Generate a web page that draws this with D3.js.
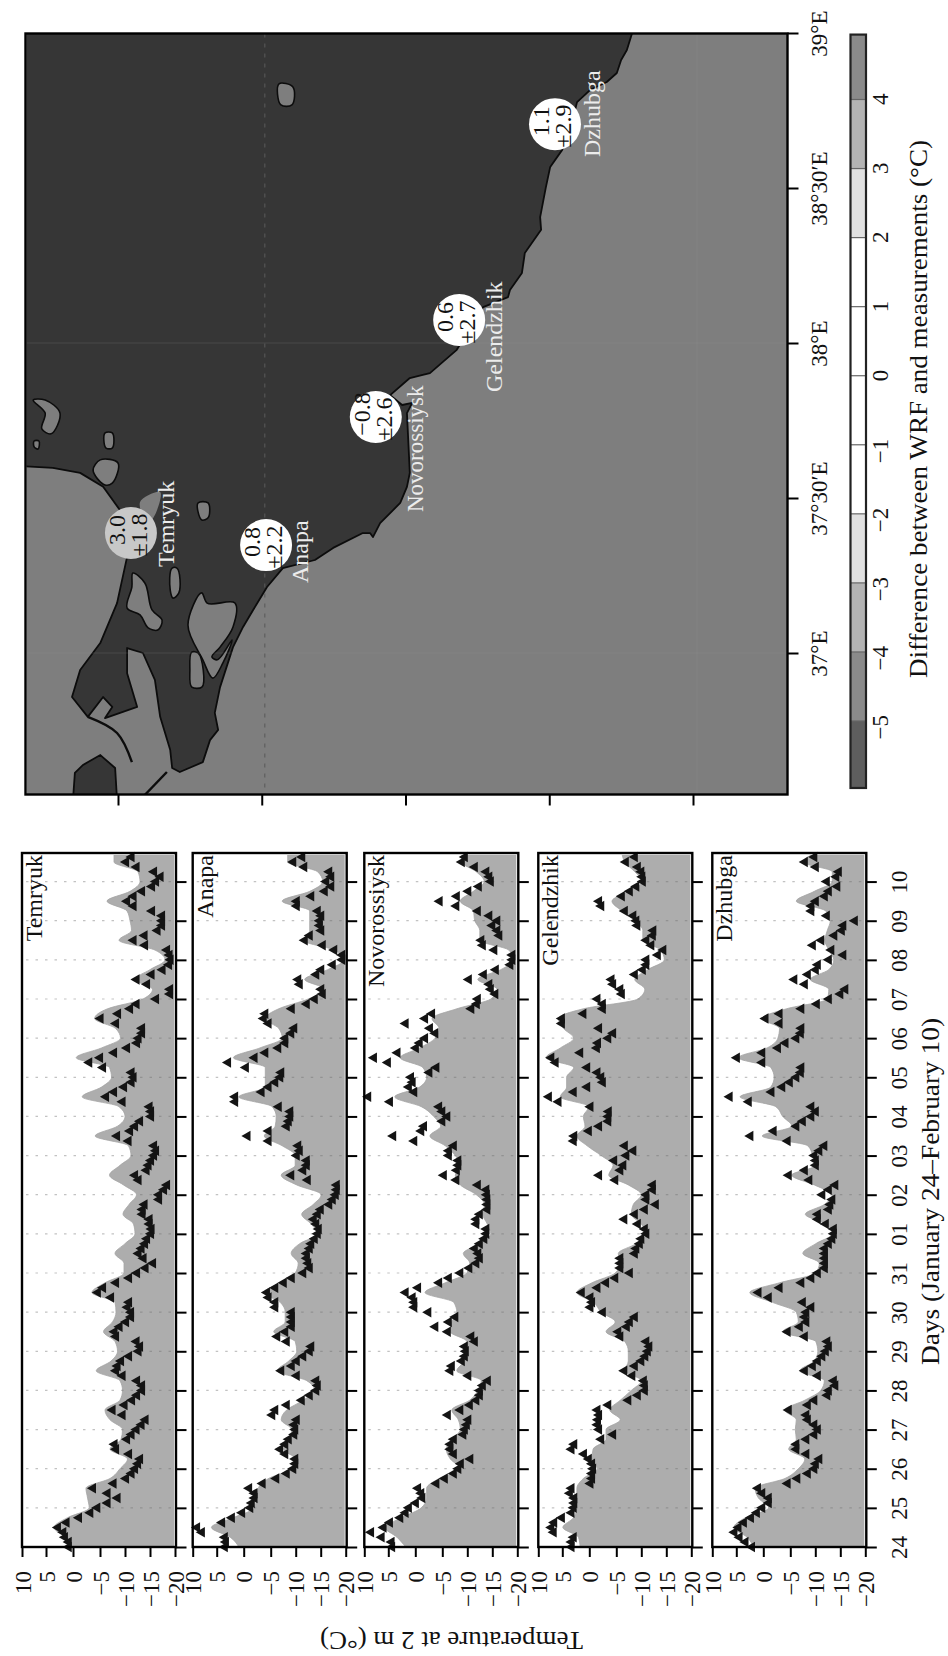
<!DOCTYPE html>
<html><head><meta charset="utf-8">
<script src="https://cdn.jsdelivr.net/npm/d3@7"></script>
<style>html,body{margin:0;padding:0;background:#fff}svg{display:block}text{font-family:"Liberation Serif",serif;fill:#111}</style>
</head><body><svg id="c" width="948" height="1656"></svg>
<script>
const stations=["Temryuk","Anapa","Novorossiysk","Gelendzhik","Dzhubga"];
const dayLabels=["24","25","26","27","28","29","30","31","01","02","03","04","05","06","07","08","09","10"];
const tempTicks=[10,5,0,-5,-10,-15,-20];
// WRF model, 6-hourly from Jan 24 00:00 (deg C)
const modelTemryuk=[0,1.5,3.5,1,-3,-2.7,-2.4,-7,-9,-10.5,-7,-9.2,-9.5,-7,-6,-9,-9.5,-9,-4.3,-7.2,-8.5,-8,-5.7,-7.5,-8.2,-8,-3.5,-6,-9.8,-9.8,-8,-10,-12,-11.7,-9.6,-10.8,-12.3,-9.7,-6.9,-9,-11.2,-10.7,-4.1,-8.5,-10,-8.8,-1.7,-5.3,-7.3,-6.9,-.6,-5.3,-9.1,-8.1,-4,-6.5,-13.6,-15.5,-12,-15,-18,-16,-8.8,-11.3,-11,-10.4,-6.4,-11,-13,-12.6,-7.8,-7.8];
const modelAnapa=[.9,2.5,6.1,1.9,-2,-2.4,-2.7,-4.6,-9.2,-9.9,-7.6,-8.6,-9.2,-7.1,-8.2,-11.5,-13.8,-12.2,-6.3,-8.6,-10.2,-9.9,-5.6,-7.9,-7.9,-6.9,-3.7,-6.9,-9.9,-10.5,-9.1,-10.8,-14.4,-13.1,-11.2,-13.5,-15.1,-10.2,-7.1,-9.9,-9.9,-7.3,-3.8,-5.9,-6.1,-5.3,.9,-4,-4,-4,1.9,-3,-7.3,-6.6,-4,-6.6,-12.5,-15.8,-11.8,-16.4,-19.7,-17.7,-11.5,-12.8,-12.8,-12.8,-7.3,-12.8,-15.4,-14.4,-8.4,-8.4];
const modelNovorossiysk=[1.8,3.4,5.7,2.5,-1.1,-2.1,-2.1,-4.4,-8.6,-6.6,-5.8,-6.9,-8.6,-8.2,-6.9,-10.5,-12.1,-12.8,-7.9,-9.2,-9.2,-9.9,-6.6,-6.9,-7.9,-7.3,-1.8,-5.6,-9.9,-10.5,-9.2,-12.5,-14.7,-14,-13.1,-13.4,-11.8,-8.6,-7.6,-8.6,-7.6,-5.6,-2.7,-4.7,-3.4,-1.1,3.8,-.8,-2.1,-1.4,2.8,-.8,-3.7,-4.4,-3.1,-7.9,-14.7,-16,-12.1,-16.7,-19.3,-18.3,-12.5,-12.5,-11.5,-11.2,-8.6,-11.2,-13.4,-11.8,-8.9,-8.9];
const modelGelendzhik=[1.7,2,4.9,2.9,2.3,2.3,2.3,1.1,-1.5,-.5,-.7,-3.1,-3.1,-5.8,-3.8,-5.8,-8,-10,-6.7,-7.4,-7.4,-6.7,-3.1,-4.8,-2.2,-.8,2.3,-.5,-4.8,-5.8,-5.4,-9,-11,-10,-8,-8.4,-10,-7.4,-3.6,-4.4,-2.2,.4,2.3,.8,1.1,.1,5.4,4.2,4.2,2.9,8.4,5.4,2.9,4.8,5.8,1.1,-9.3,-10.7,-8.7,-11.3,-14.6,-13.9,-10.3,-10.3,-8.7,-6.1,-4.2,-7.4,-10.3,-8.7,-6.7,-6.1];
const modelDzhubga=[1.8,3,5.5,3.3,-1,.9,1.5,-4,-6.6,-7.9,-4.7,-6.2,-6,-6.2,-4,-7.9,-11.1,-11.8,-6.9,-9.8,-10.5,-10.1,-3.6,-6.6,-6.2,-1.7,2.5,-3,-10.1,-10.8,-7.5,-10.1,-13.4,-12.1,-8,-11.8,-13.4,-9.8,-5.3,-10.1,-9.5,-8.5,.2,-5.3,-3.6,-2.3,4.3,-1.4,-2,-1.4,4.6,-.7,-2.7,-3,.2,-4.3,-12.4,-12.7,-9,-12.7,-13.7,-12.7,-11.9,-12.4,-13,-12.1,-6.2,-9.8,-13.4,-13.4,-7.5,-10.5];
// Measurements, 3-hourly from Jan 24 00:00 (deg C)
const obsTemryuk=[.8,.8,1.5,1.8,2.8,1.2,-1.1,-3.2,-4.5,-6.5,-8.5,-6.5,-3.7,-7.7,-10.2,-11.3,-12,-12.6,-13,-10.8,-8.2,-7.9,-10.4,-11.3,-12.3,-13.3,-14.1,-9.5,-7.5,-9.9,-11.4,-12.4,-13.4,-13.4,-12.4,-9.5,-8.2,-8.5,-9.2,-10.8,-12.7,-13,-12.3,-8.2,-7.9,-8.9,-10.2,-11.2,-11.2,-10.5,-10.8,-7.2,-4.6,-5.6,-8.2,-10.8,-12.4,-14.1,-15.6,-13.7,-12.7,-13.3,-14,-14.4,-15.2,-15.3,-14.9,-14.9,-13.5,-13.5,-13.9,-16.8,-16.8,-17.8,-18.4,-12.7,-12,-14.3,-14.7,-15.2,-15.8,-16.2,-15.8,-10.7,-8.4,-11,-12,-13,-15.2,-15.2,-14.9,-9.5,-6.2,-7.8,-9.8,-11.3,-11.7,-11.3,-5.6,-3,-5,-7.8,-10.4,-12.4,-12.7,-13.4,-13.4,-8.2,-5.1,-8.6,-11,-12.3,-16.2,-19,-19,-14.4,-12.3,-15.3,-17.5,-18.8,-19.1,-18.9,-18.4,-14,-11.7,-13.9,-16.5,-17.4,-17.4,-17.4,-15.4,-11.7,-10.4,-11.7,-13.4,-15.4,-16.2,-17.1,-15.8,-12.3,-10.2,-11.3];
const obsAnapa=[3.5,3.3,3.5,8.1,9.1,4,2.2,.3,-1.2,-1.5,-2,-2,-1,-3.5,-6.1,-8.2,-9.5,-9.9,-9.9,-7.9,-6.9,-7.9,-8.6,-9.7,-9.9,-9.7,-10.2,-5.3,-5.9,-8.2,-11.2,-12.8,-14.1,-14.4,-14.1,-10.2,-7.1,-9.2,-10.2,-11.5,-12.8,-13.1,-8.2,-6.3,-7.9,-9.2,-9.2,-9.2,-9.2,-5.9,-5.9,-4.6,-4.3,-5.9,-7.6,-9.2,-11.5,-12.8,-12.5,-12.2,-12.2,-12.8,-13.1,-13.8,-14.4,-14.6,-14.1,-13.6,-14.4,-15,-16.7,-17.4,-18,-18.2,-18.2,-12.4,-9.1,-11.5,-12.2,-12.2,-10.2,-10.8,-10.5,-4.6,-.7,-4.6,-8.2,-8.6,-8.9,-8.9,-6.6,1.6,1.6,-3.3,-4.6,-5.9,-6.9,-7.1,-.4,2.9,-2,-4,-6.5,-7.9,-7.9,-9.1,-9.7,-4.6,-3.7,-4,-9.2,-12.2,-13.8,-15.4,-15.1,-10.8,-10.5,-14.1,-15.1,-17.4,-19.3,-19.3,-17.7,-15.4,-11.8,-12.8,-15.1,-14.8,-14.8,-15.1,-14.4,-10.2,-10.2,-13.1,-15.8,-17.1,-16.1,-17.1,-16.7,-11.7,-9.5,-11.3];
const obsNovorossiysk=[4.3,4.4,6.4,8.6,6,4.7,2.8,1.8,1.2,-.1,-1.3,-1.1,-.5,-3.9,-5.5,-7.3,-8.2,-8.7,-10.6,-7.3,-6.6,-6.6,-7.3,-9.2,-9.5,-9.9,-10.2,-6.1,-8.6,-10.5,-11.8,-12.5,-12.5,-13.1,-14.1,-10.2,-6.6,-6.9,-8.9,-9.5,-9.7,-9.5,-11.5,-10.8,-6.1,-3.7,-6.3,-7.6,-2.4,.2,.2,.5,1.8,-.5,-4.4,-6.3,-8.6,-10.4,-11.8,-12.5,-12.2,-11.5,-12.5,-13.4,-13.8,-13.8,-11.8,-11.8,-12.5,-14,-14,-14,-13.9,-13.8,-12.1,-7.8,-5.3,-7.9,-8.2,-8.2,-6.3,-6.3,-7.3,.2,4.1,-1.1,-1.6,-5,-6,-5,-4.4,4.7,9.2,.2,1.2,.5,.8,-2.6,-3.9,5.1,8,3.3,-.1,-.8,-1.8,-3.7,-2.7,1.8,-1.8,-3.1,-10.8,-11.9,-12.1,-15.6,-14.7,-14.4,-10.3,-13.3,-15.7,-18.6,-19,-19,-15.4,-13.1,-12.8,-16.4,-16,-15,-16,-14.4,-12.1,-7.8,-4.5,-7.9,-10.2,-12.3,-14.7,-14.4,-13.8,-11.5,-8.9,-9.5];
const obsGelendzhik=[3.3,3.3,2.9,6.8,7.3,6.7,5.1,3.3,2.9,2.8,2.8,3.6,3.3,-.2,-.5,-.5,-.7,-.5,.1,1,3.3,2.8,-2.2,-4.4,-1.8,-1.5,-1.6,-1.8,-1.5,-3.5,-7.4,-9.3,-10.7,-10.7,-10.5,-8.2,-6.6,-8.7,-10,-10.8,-11.3,-11.6,-11,-5.8,-5.4,-7.1,-7.7,-8.7,-2.5,-.2,-.5,-.2,1.4,-1.5,-3.1,-4.8,-7.7,-5.8,-5.8,-5.8,-8.7,-9,-9.7,-10,-11,-10.7,-9.3,-6.6,-8.7,-10.7,-12.9,-11,-11,-12.3,-12.3,-4.8,-1.8,-5.8,-6.4,-4.6,-7,-8.4,-6.7,2.9,2.8,.1,-1.8,-3.5,-3.5,-3.6,-.2,5.8,7.8,2.9,.4,-2.5,-2.2,-1.5,.4,6.4,7.3,1.7,-1.4,-1.6,-3.5,-4.4,-1.8,5.1,5.1,1.1,-2.5,-2.5,-1.5,-6.1,-5.8,-4.4,-4.1,-8.7,-10.3,-11,-11,-13.3,-14.4,-12,-11,-12.3,-12.4,-9.2,-9,-8.4,-6.7,-2.2,-1.8,-6.1,-7.7,-9,-10.3,-10.2,-10,-9.3,-6.9,-8.7];
const obsDzhubga=[2.1,3.3,4.4,5.4,4.6,3.6,2.3,1.2,.2,-1,-1,.2,1,-4.5,-6.4,-8.5,-9.8,-10.1,-10.8,-8.2,-6.2,-6.2,-8.2,-9.8,-10.5,-9.8,-8.5,-8.2,-4.7,-8.5,-9.8,-12.4,-12.7,-14,-13.7,-10.5,-7.9,-9.5,-10.5,-11.4,-12.1,-12.7,-12.4,-7.9,-4.5,-6.9,-8.2,-7.9,-8.2,-9.2,-7.5,-1,.9,-3,-7.2,-9.2,-10.5,-11.9,-11.9,-11.9,-11.9,-11.9,-12.7,-13.4,-13.7,-13.7,-12.1,-10.5,-10.5,-12.7,-13,-13.4,-11.4,-12.7,-14,-8.8,-4.7,-7.9,-10.1,-10.1,-9.8,-10.8,-11.8,-4.5,2.4,-1.9,-6.2,-7.5,-9.2,-10.1,-9.2,2.7,6.4,-1.5,-3.5,-4.9,-6.2,-7.1,-7.2,.2,4.9,.2,-2.7,-4.1,-6.2,-7.1,-7.2,-3,-.4,-3,-7.2,-10.3,-12.7,-15,-16,-7.9,-5.8,-8.5,-10.1,-10.5,-12.7,-15.6,-13.2,-9.5,-11.2,-13.8,-15.3,-15.6,-17.9,-12.3,-9.2,-9.2,-10.1,-11.9,-12.7,-14.4,-12.3,-14.2,-14.7,-10.1,-7.9,-9.8];
const modelByStation=[modelTemryuk,modelAnapa,modelNovorossiysk,modelGelendzhik,modelDzhubga];
const obsByStation=[obsTemryuk,obsAnapa,obsNovorossiysk,obsGelendzhik,obsDzhubga];
// Map data
const lonTicks=[37,37.5,38,38.5,39];
const lonLabels=["37°E","37°30′E","38°E","38°30′E","39°E"];
const latTicks=[45.3,45,44.7,44.4,44.1];
const biasStations=["Temryuk","Anapa","Novorossiysk","Gelendzhik","Dzhubga"];
const biasMean=[3.0,0.8,-0.8,0.6,1.1];
const biasStd=[1.8,2.2,2.6,2.7,2.9];
const stationLat=[45.273,44.991,44.762,44.588,44.388];
const stationLon=[37.387,37.348,37.761,38.074,38.706];
const colorBreaks=[-5,-4,-3,-2,2,3,4];
const colorShades=["#5e5e5e","#8a8a8a","#b3b3b3","#e0e0e0","#ffffff","#e0e0e0","#b3b3b3","#8a8a8a"];
const barTicks=[-5,-4,-3,-2,-1,0,1,2,3,4];
const mainland=[[44.227,39.016],[44.227,39.0],[44.238,38.945],[44.25,38.913],[44.259,38.871],[44.28,38.842],[44.315,38.816],[44.342,38.777],[44.346,38.752],[44.373,38.623],[44.398,38.568],[44.407,38.503],[44.419,38.406],[44.417,38.365],[44.451,38.29],[44.457,38.226],[44.482,38.171],[44.486,38.148],[44.538,38.116],[44.593,37.978],[44.622,37.939],[44.649,37.903],[44.664,37.897],[44.691,37.887],[44.732,37.832],[44.707,37.8],[44.686,37.807],[44.697,37.774],[44.691,37.581],[44.697,37.536],[44.711,37.484],[44.753,37.419],[44.768,37.374],[44.774,37.387],[44.789,37.387],[44.851,37.339],[44.889,37.3],[44.956,37.274],[44.989,37.213],[45.018,37.139],[45.039,37.084],[45.06,37.019],[45.087,36.89],[45.098,36.807],[45.091,36.752],[45.108,36.719],[45.123,36.648],[45.171,36.616],[45.187,36.629],[45.191,36.687],[45.212,36.794],[45.223,36.913],[45.248,37],[45.281,37.016],[45.281,36.935],[45.26,36.826],[45.327,36.79],[45.312,36.826],[45.331,36.858],[45.363,36.794],[45.396,36.858],[45.379,36.945],[45.337,37.032],[45.302,37.161],[45.281,37.31],[45.296,37.461],[45.331,37.536],[45.379,37.581],[45.436,37.597],[45.504,37.603],[45.504,39.016]];
const crimea=[[45.39,36.613],[45.373,36.639],[45.337,36.671],[45.306,36.629],[45.302,36.526],[45.394,36.526]];
const lagoons=[
 [[45.154,37.09],[45.125,37.194],[45.114,37.161],[45.056,37.161],[45.06,37.084],[45.087,37.019],[45.104,36.987],[45.093,36.978],[45.062,37.042],[45.081,36.968],[45.102,36.919],[45.123,36.978]],
 [[45.146,37.003],[45.133,37],[45.125,36.89],[45.146,36.89],[45.15,36.945]],
 [[45.187,37.274],[45.177,37.274],[45.173,37.194],[45.185,37.177],[45.191,37.203]],
 [[45.269,37.258],[45.244,37.226],[45.229,37.139],[45.208,37.106],[45.217,37.074],[45.237,37.081],[45.254,37.123],[45.281,37.145],[45.271,37.213]],
 [[45.133,37.484],[45.112,37.484],[45.112,37.436],[45.125,37.429]],
 [[45.352,37.59],[45.337,37.623],[45.3,37.613],[45.312,37.548],[45.327,37.542]],
 [[45.477,37.816],[45.452,37.816],[45.421,37.774],[45.44,37.707],[45.459,37.723],[45.452,37.774]],
 [[45.475,37.684],[45.465,37.684],[45.467,37.658],[45.475,37.665]],
 [[45.327,37.71],[45.312,37.71],[45.312,37.661],[45.325,37.661]],
 [[44.964,38.836],[44.935,38.826],[44.937,38.768],[44.96,38.768]]
];
const temryukBay=[[45.254,37.487],[45.212,37.519],[45.223,37.445],[45.237,37.419]];
const spits=[[[45.254,36.526],[45.198,36.616]],[[45.363,36.794],[45.302,36.742],[45.271,36.648]]];

const svg=d3.select("#c");
const FF='"Liberation Serif",serif';
function rotText(g,x,y,s,size,anchor,fill,len){
  const t=g.append("text").attr("transform",`translate(${x},${y}) rotate(-90)`).attr("font-size",size).attr("text-anchor",anchor).text(s);
  if(fill)t.style("fill",fill);
  if(len)t.attr("textLength",len).attr("lengthAdjust","spacingAndGlyphs");
  return t;
}
// ---------- time-series panels ----------
const panelLeft=[22,192.7,364.3,538.3,712.3];
const pTop=853,pBot=1547,pW=153;
const y=d3.scaleLinear().domain([0,17.73]).range([pBot,pTop]);
const defs=svg.append("defs");
stations.forEach((name,i)=>{
  const L=panelLeft[i];
  const x=d3.scaleLinear().domain(tempTicks).range([0,24,51,78,103,128,153].map(d=>L+d));
  const g=svg.append("g");
  defs.append("clipPath").attr("id","p"+i).append("rect").attr("x",L+1).attr("y",pTop+2).attr("width",pW-2).attr("height",pBot-pTop-2);
  const area=d3.area().y((d,k)=>y(k/4)).x0(d=>x(d)).x1(x(-20)).curve(d3.curveMonotoneY);
  g.append("path").attr("clip-path",`url(#p${i})`).attr("d",area(modelByStation[i])).attr("fill","#adadad").attr("stroke","#a4a4a4").attr("stroke-width",.8);
  g.append("g").selectAll("line").data(d3.range(dayLabels.length)).join("line")
    .attr("x1",L+4).attr("x2",L+pW-3).attr("y1",d=>y(d)).attr("y2",d=>y(d))
    .attr("stroke","#6e6e6e").attr("stroke-opacity",.42).attr("stroke-width",1.2).attr("stroke-dasharray","2.5 7");
  const tri=d3.symbol().type(d3.symbolTriangle).size(48);
  g.append("g").selectAll("path").data(obsByStation[i]).join("path")
    .attr("d",tri).attr("fill","#141414")
    .attr("transform",(d,k)=>`translate(${x(d)},${y(k/8)}) rotate(-90)`);
  // bottom axis (temperature)
  const ax=d3.axisBottom(x).tickValues(tempTicks).tickSize(10).tickFormat(d3.format("d"));
  const axG=g.append("g").attr("transform",`translate(0,${pBot})`).call(ax);
  axG.select(".domain").remove();
  axG.selectAll("line").attr("stroke","#000").attr("stroke-width",2);
  axG.selectAll("text").attr("y",null).attr("dy",null).attr("text-anchor","end").attr("font-size",23)
     .attr("font-family",FF).attr("transform","translate(8,24) rotate(-90)");
  // right axis (days)
  const dayAx=d3.axisRight(y).tickValues(d3.range(dayLabels.length)).tickSize(10.5)
     .tickFormat(d=>i===4?dayLabels[d]:"");
  const dG=g.append("g").attr("transform",`translate(${L+pW+1},0)`).call(dayAx);
  dG.select(".domain").remove();
  dG.selectAll("line").attr("stroke","#000").attr("stroke-width",2);
  dG.selectAll("text").attr("x",null).attr("dy",null).attr("text-anchor","middle").attr("font-size",23)
     .attr("font-family",FF).attr("transform","translate(41,0) rotate(-90)");
  g.append("rect").attr("x",L).attr("y",pTop).attr("width",pW+1).attr("height",pBot-pTop)
    .attr("fill","none").attr("stroke","#000").attr("stroke-width",2.4);
  rotText(g,L+20,pTop+2,name,24,"end");
});
rotText(svg,939,1191.5,"Days (January 24–February 10)",26,"middle",null,347);
svg.append("text").attr("transform","translate(451.5,1632) rotate(180)").attr("font-size",26)
   .attr("text-anchor","middle").attr("textLength",263).attr("lengthAdjust","spacingAndGlyphs").text("Temperature at 2 m (°C)");
// ---------- map ----------
const mx=d3.scaleLinear().domain([45.3,44.1]).range([118,693]);
const my=d3.scaleLinear().domain([37,39]).range([653,33]);
const mL=25.5,mR=787.5,mT=33.5,mB=794.5;
const m=svg.append("g");
defs.append("clipPath").attr("id","mc").append("rect").attr("x",mL+1).attr("y",mT).attr("width",mR-mL-1).attr("height",mB-mT);
const mp=m.append("g").attr("clip-path","url(#mc)");
mp.append("rect").attr("x",mL).attr("y",mT).attr("width",mR-mL).attr("height",mB-mT).attr("fill","#7e7e7e");
const geoLine=d3.line().x(d=>mx(d[0])).y(d=>my(d[1])).curve(d3.curveCatmullRom.alpha(.6));
const closedLine=d3.line().x(d=>mx(d[0])).y(d=>my(d[1])).curve(d3.curveCatmullRomClosed.alpha(.6));
const polyLine=d3.line().x(d=>mx(d[0])).y(d=>my(d[1])).curve(d3.curveLinearClosed);
mp.append("path").attr("d",polyLine(mainland)).attr("fill","#363636").attr("stroke","#0c0c0c").attr("stroke-width",1.8).attr("stroke-linejoin","round");
mp.append("path").attr("d",polyLine(crimea)).attr("fill","#363636").attr("stroke","#0c0c0c").attr("stroke-width",1.8);
lagoons.forEach(a=>mp.append("path").attr("d",closedLine(a)).attr("fill","#7e7e7e").attr("stroke","#0c0c0c").attr("stroke-width",1.6));
mp.append("path").attr("d",closedLine(temryukBay)).attr("fill","#7e7e7e");
spits.forEach(a=>mp.append("path").attr("d",geoLine(a)).attr("fill","none").attr("stroke","#0c0c0c").attr("stroke-width",2.4));
// faint graticule
[37,38].forEach(v=>mp.append("line").attr("x1",mL).attr("x2",mR).attr("y1",my(v)).attr("y2",my(v)).attr("stroke","#a0a0a0").attr("stroke-opacity",.12).attr("stroke-width",1.5));
mp.append("line").attr("x1",mx(44.1)+4).attr("x2",mx(44.1)+4).attr("y1",mT).attr("y2",mB).attr("stroke","#8c8c8c").attr("stroke-opacity",.3).attr("stroke-width",1.5);
mp.append("line").attr("x1",mx(45)+3).attr("x2",mx(45)+3).attr("y1",mT).attr("y2",mB).attr("stroke","#5a5a5a").attr("stroke-opacity",.75).attr("stroke-width",1.4).attr("stroke-dasharray","4 6");
// coloured circles
const bandColor=d3.scaleThreshold().domain(colorBreaks).range(colorShades);
biasStations.forEach((s,i)=>{
  const cx=mx(stationLat[i]),cy=my(stationLon[i]);
  m.append("circle").attr("cx",cx).attr("cy",cy).attr("r",26).attr("fill",i===0?"#c8c8c8":bandColor(biasMean[i]));
  rotText(m,cx-6,cy-3,d3.format(".1f")(biasMean[i]),24,"middle");
  rotText(m,cx+16,cy+2,"±"+d3.format(".1f")(biasStd[i]),24,"middle");
});
const cityLabel=[[174,567],[308,583],[423,512],[502,392],[600,157]];
biasStations.forEach((s,i)=>rotText(m,cityLabel[i][0],cityLabel[i][1],s,i===2?23:24,"start","#ececec"));
// map axes
const rAx=d3.axisRight(my).tickValues(lonTicks).tickSize(11).tickFormat((d,i)=>lonLabels[i]);
const rG=m.append("g").attr("transform",`translate(${mR},0)`).call(rAx);
rG.select(".domain").remove();
rG.selectAll("line").attr("stroke","#000").attr("stroke-width",2);
rG.selectAll("text").attr("x",null).attr("dy",null).attr("text-anchor","middle").attr("font-size",23).attr("font-family",FF).attr("transform","translate(39.5,0) rotate(-90)");
const bAx=d3.axisBottom(mx).tickValues(latTicks).tickSize(11).tickFormat("");
const bG=m.append("g").attr("transform",`translate(0,${mB})`).call(bAx);
bG.select(".domain").remove();
bG.selectAll("line").attr("stroke","#000").attr("stroke-width",2);
m.append("rect").attr("x",mL).attr("y",mT).attr("width",mR-mL).attr("height",mB-mT).attr("fill","none").attr("stroke","#000").attr("stroke-width",2.4);
// ---------- colour bar ----------
const cy=d3.scaleLinear().domain([-5,4]).range([721,99.5]);
const cb=svg.append("g");
const bandEdges=[-5.97,...colorBreaks,4.94];
const barL=850.5,barW=15.5;
cb.selectAll("rect.b").data(colorShades).join("rect").attr("class","b")
  .attr("x",barL).attr("width",barW).attr("y",(d,i)=>cy(bandEdges[i+1])).attr("height",(d,i)=>cy(bandEdges[i])-cy(bandEdges[i+1])).attr("fill",d=>d);
cb.selectAll("line.t").data(barTicks).join("line").attr("class","t").attr("x1",barL).attr("x2",barL+barW)
  .attr("y1",d=>cy(d)).attr("y2",d=>cy(d)).attr("stroke","#666").attr("stroke-width",1.2);
cb.append("rect").attr("x",barL).attr("y",cy(4.94)).attr("width",barW).attr("height",cy(-5.97)-cy(4.94)).attr("fill","none").attr("stroke","#222").attr("stroke-width",2.2);
barTicks.forEach(v=>rotText(cb,888,cy(v)-6,d3.format("d")(v),23,"end"));
rotText(cb,927,409,"Difference between WRF and measurements (°C)",26,"middle",null,538);
</script></body></html>
